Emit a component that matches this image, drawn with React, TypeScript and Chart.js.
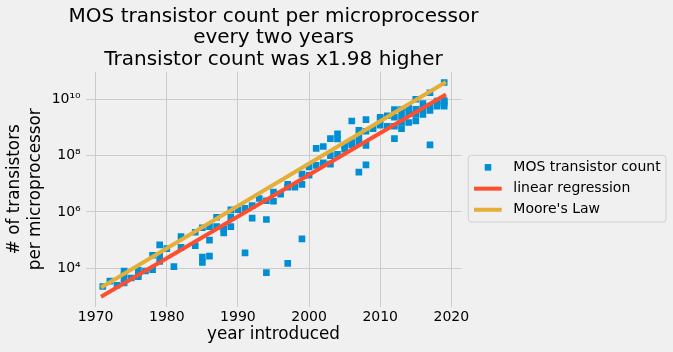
import React, { useEffect, useRef } from 'react';
import { Chart, registerables } from 'chart.js';

Chart.register(...registerables);

const titleLines = [
  'MOS transistor count per microprocessor',
  'every two years',
  'Transistor count was x1.98 higher',
];
const xAxisLabel = 'year introduced';
const yAxisLabel = ['# of transistors', 'per microprocessor'];
const xTickValues = [1970, 1980, 1990, 2000, 2010, 2020];
const yTickValues = [1e4, 1e6, 1e8, 1e10];
const seriesLabels = ['MOS transistor count', 'linear regression', "Moore's Law"];
const seriesColors = ['#008fd5', '#fc4f30', '#e5ae38'];

const years = [
  1971, 1972, 1973, 1974, 1974, 1974, 1974, 1975, 1976, 1976, 1976, 1977,
  1978, 1978, 1979, 1979, 1979, 1980, 1981, 1982, 1982, 1984, 1984,
  1985, 1985, 1985, 1986, 1986, 1986, 1987, 1987, 1988, 1988,
  1989, 1989, 1989, 1990, 1991, 1991, 1992, 1992, 1993,
  1994, 1994, 1994, 1995, 1995, 1996, 1997, 1997, 1997, 1998,
  1999, 1999, 1999, 2000, 2000, 2001, 2001, 2002, 2002,
  2003, 2003, 2003, 2004, 2004, 2004, 2005, 2005,
  2006, 2006, 2006, 2007, 2007, 2007, 2007,
  2008, 2008, 2008, 2008, 2009, 2010, 2010, 2010, 2011, 2011,
  2012, 2012, 2012, 2012, 2013, 2013, 2013, 2013,
  2014, 2014, 2014, 2015, 2015, 2015, 2015, 2016, 2016, 2016,
  2017, 2017, 2017, 2017, 2018, 2018, 2018, 2019, 2019, 2019, 2019,
];
const transistorCounts = [
  2250, 3500, 2500, 3000, 4100, 6000, 8000, 4500, 5000, 6500, 8500, 8000,
  9000, 29000, 17500, 29000, 68000, 50000, 11500, 55000, 134000, 63000, 190000,
  16000, 25000, 275000, 27000, 100000, 300000, 300000, 650000, 180000, 250000,
  300000, 660000, 1180000, 1200000, 35000, 1350000, 600000, 1700000, 3000000,
  7000, 540000, 2500000, 2400000, 5100000, 4300000, 15000, 7500000, 9500000, 7500000,
  111000, 9500000, 22000000, 20000000, 40000000, 45000000, 180000000, 55000000, 210000000,
  50000000, 100000000, 400000000, 112000000, 390000000, 590000000, 170000000, 230000000,
  240000000, 290000000, 1700000000, 26000000, 300000000, 460000000, 790000000,
  47000000, 230000000, 730000000, 1900000000, 900000000, 1200000000, 2000000000, 2300000000, 1100000000, 2600000000,
  400000000, 1100000000, 2300000000, 4300000000, 900000000, 1500000000, 2600000000, 4300000000,
  1500000000, 3300000000, 5000000000, 1700000000, 2900000000, 4400000000, 10000000000, 2900000000, 4400000000, 7000000000,
  240000000, 4000000000, 5700000000, 17000000000, 5700000000, 6900000000, 8700000000, 5700000000, 7600000000, 9000000000, 39500000000,
];
const lineYears = [1971, 2019];
const regressionCounts = [1050, 1.37e10];
const mooreCounts = [2250, 3.77e10];

const FONT = "'DejaVu Sans', sans-serif";
const SUP = ['⁰', '¹', '²', '³', '⁴', '⁵', '⁶', '⁷', '⁸', '⁹'];
const supNum = (n: number) => String(n).split('').map((d) => SUP[+d]).join('');

const bgPlugin = {
  id: 'bg',
  beforeDraw(chart: any) {
    const { ctx, width, height } = chart;
    ctx.save();
    ctx.fillStyle = '#f0f0f0';
    ctx.fillRect(0, 0, width, height);
    ctx.restore();
  },
};

const titlePlugin = {
  id: 'centeredTitle',
  afterDraw(chart: any) {
    const { ctx, chartArea } = chart;
    const cx = (chartArea.left + chartArea.right) / 2;
    ctx.save();
    ctx.font = `20px ${FONT}`;
    ctx.fillStyle = '#000';
    ctx.textAlign = 'center';
    ctx.textBaseline = 'middle';
    titleLines.forEach((t, i) => {
      ctx.fillText(t, cx, 16.6 + i * 21.4);
    });
    ctx.restore();
  },
};

const sideLegend = {
  id: 'sideLegend',
  afterDraw(chart: any) {
    const { ctx, chartArea } = chart;
    const w = 197.7;
    const h = 66.7;
    const x0 = chartArea.right + 7;
    const y0 = (chartArea.top + chartArea.bottom) / 2 - h / 2 - 0.5;
    ctx.save();
    ctx.beginPath();
    const r = 3;
    ctx.moveTo(x0 + r, y0);
    ctx.arcTo(x0 + w, y0, x0 + w, y0 + h, r);
    ctx.arcTo(x0 + w, y0 + h, x0, y0 + h, r);
    ctx.arcTo(x0, y0 + h, x0, y0, r);
    ctx.arcTo(x0, y0, x0 + w, y0, r);
    ctx.closePath();
    ctx.fillStyle = '#f0f0f0';
    ctx.fill();
    ctx.strokeStyle = '#d0d0d0';
    ctx.lineWidth = 1;
    ctx.stroke();
    const rows = [y0 + 12, y0 + 33.3, y0 + 54.4];
    const ds = chart.data.datasets;
    ctx.font = `14px ${FONT}`;
    ctx.textBaseline = 'middle';
    ctx.textAlign = 'left';
    ds.forEach((d: any, i: number) => {
      const y = rows[i];
      if (i === 0) {
        ctx.fillStyle = d.backgroundColor;
        ctx.fillRect(x0 + 19.7 - 3.3, y - 3.3, 6.6, 6.6);
      } else {
        ctx.strokeStyle = d.borderColor;
        ctx.lineWidth = 4;
        ctx.beginPath();
        ctx.moveTo(x0 + 5.7, y);
        ctx.lineTo(x0 + 33.4, y);
        ctx.stroke();
      }
      ctx.fillStyle = '#000';
      ctx.fillText(d.label, x0 + 45, y);
    });
    ctx.restore();
  },
};

export default function App() {
  const ref = useRef<HTMLCanvasElement>(null);
  useEffect(() => {
    document.body.style.margin = '0';
    document.body.style.background = '#f0f0f0';
    const scatterData = years.map((y, i) => ({ x: y, y: transistorCounts[i] }));
    const regData = lineYears.map((y, i) => ({ x: y, y: regressionCounts[i] }));
    const mooreData = lineYears.map((y, i) => ({ x: y, y: mooreCounts[i] }));
    const chart = new Chart(ref.current!, {
      type: 'scatter',
      data: {
        datasets: [
          {
            label: seriesLabels[0],
            data: scatterData,
            backgroundColor: seriesColors[0],
            borderColor: seriesColors[0],
            pointStyle: 'rect',
            pointRadius: 4.7,
            borderWidth: 0,
            order: 3,
          },
          {
            label: seriesLabels[1],
            data: regData,
            showLine: true,
            borderColor: seriesColors[1],
            backgroundColor: seriesColors[1],
            borderWidth: 4,
            pointRadius: 0,
            borderCapStyle: 'square',
            order: 2,
          },
          {
            label: seriesLabels[2],
            data: mooreData,
            showLine: true,
            borderColor: seriesColors[2],
            backgroundColor: seriesColors[2],
            borderWidth: 4,
            pointRadius: 0,
            borderCapStyle: 'square',
            order: 1,
          },
        ] as any,
      },
      plugins: [bgPlugin, titlePlugin, sideLegend],
      options: {
        animation: false,
        responsive: false,
        devicePixelRatio: 1,
        layout: { padding: { left: 0, right: 211.7, top: 71.8, bottom: 0 } },
        plugins: {
          legend: { display: false },
          tooltip: { enabled: false },
          title: { display: false },
        },
        scales: {
          x: {
            type: 'linear',
            position: 'bottom',
            min: 1968.6,
            max: 2021.4,
            grid: { color: '#cbcbcb', lineWidth: 1, drawTicks: false },
            border: { display: false },
            ticks: {
              color: '#000',
              font: { family: FONT, size: 14 },
              padding: 2,
              maxRotation: 0,
              autoSkip: false,
              callback: (v: any) => String(v),
            },
            title: {
              display: true,
              text: xAxisLabel,
              color: '#000',
              font: { family: FONT, size: 16.8 },
              padding: { top: 0, bottom: 7 },
            },
            afterBuildTicks: (s: any) => {
              s.ticks = xTickValues.map((v) => ({ value: v }));
            },
            afterFit: (s: any) => {
              s.height = 45.4;
            },
          },
          y: {
            type: 'logarithmic',
            min: Math.pow(10, 2.639),
            max: Math.pow(10, 10.976),
            grid: { color: '#cbcbcb', lineWidth: 1, drawTicks: false },
            border: { display: false },
            ticks: {
              color: '#000',
              font: { family: FONT, size: 14 },
              padding: 5,
              autoSkip: false,
              callback: (v: any) => '10' + supNum(Math.round(Math.log10(v))),
            },
            title: {
              display: true,
              text: yAxisLabel,
              color: '#000',
              font: { family: FONT, size: 16.8 },
              padding: { top: 5, bottom: 0 },
            },
            afterBuildTicks: (s: any) => {
              s.ticks = yTickValues.map((v) => ({ value: v }));
            },
            afterFit: (s: any) => {
              s.width = 85.7;
            },
          },
        },
      } as any,
    });
    return () => chart.destroy();
  }, []);
  return (
    <div style={{ position: 'fixed', left: 0, top: 0, width: 673, height: 352, background: '#f0f0f0' }}>
      <canvas ref={ref} width={673} height={352} style={{ display: 'block', width: 673, height: 352 }} />
    </div>
  );
}
